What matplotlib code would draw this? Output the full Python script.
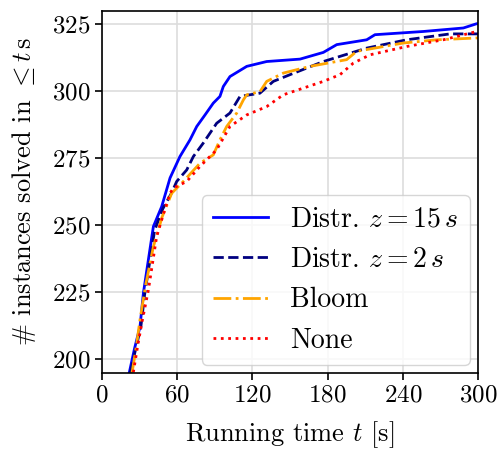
import numpy as np
import matplotlib
matplotlib.use("Agg")
import matplotlib.pyplot as plt

plt.rcParams['font.family'] = ['cmr10', 'DejaVu Serif']
plt.rcParams['mathtext.fontset'] = 'cm'
plt.rcParams['axes.formatter.use_mathtext'] = True
plt.rcParams['font.size'] = 18

# time [s] vs. number of instances solved within that time
t_distr15 = [21.8, 26.0, 30.3, 33.0, 37.0, 41.0, 47.6, 54.3, 62.2, 70.2, 75.6, 82.2,
             88.8, 94.1, 96.8, 102.1, 115.5, 131.4, 158.0, 176.6, 187.3, 211.2,
             217.8, 256.4, 288.3, 299.0, 300.0]
n_distr15 = [195, 204, 212, 224.5, 237, 249.4, 256.8, 267.5, 275.5, 281.7, 286.7, 291,
             295.4, 297.9, 301.6, 305.3, 309.1, 310.9, 311.8, 314.3, 317.2, 319,
             320.9, 322.1, 323.4, 325, 325]

t_distr2 = [22.6, 27.0, 31.0, 34.0, 38.0, 42.0, 48.5, 55.6, 59.6, 67.6, 72.9, 80.8,
            91.5, 102.1, 110.1, 126.0, 136.7, 150.0, 176.6, 211.2, 243.1, 277.7,
            300.0]
n_distr2 = [195, 204, 212, 224, 236, 248, 256, 262, 266.2, 270.5, 275.5, 280.5,
            287.9, 291.7, 297.9, 299.1, 303.5, 306, 310.9, 315.9, 319, 321.2,
            321.2]

t_bloom = [24.0, 27.5, 30.3, 35.0, 41.0, 48.0, 55.6, 64.9, 78.2, 88.8, 94.1, 99.5,
           107.5, 112.8, 115.5, 126.1, 131.4, 144.7, 166.0, 195.2, 203.2, 240.4,
           267.1, 300.0]
n_bloom = [195, 205, 214.6, 228, 241.9, 253, 261.8, 266.2, 273, 276.1, 281.7, 286.7,
           291.7, 296.6, 298.5, 299.7, 303.5, 306.6, 309.1, 311.6, 314.7, 317.8,
           319, 319.7]

t_none = [25.0, 28.5, 32.0, 37.0, 43.6, 49.0, 54.3, 56.9, 67.6, 78.2, 91.5, 102.1,
          115.5, 131.4, 144.7, 176.6, 189.9, 200.5, 213.8, 243.1, 272.3, 299.0, 300.0]
n_none = [195, 205, 214, 225.7, 245.6, 254, 261.8, 263.7, 266.2, 271.8, 278, 286.7,
          291, 294.1, 298.5, 303.5, 306, 310.3, 313.4, 316.5, 319, 322.1, 322.1]

fig = plt.figure(figsize=(5.0, 4.51), dpi=100)
ax = fig.add_axes([0.204, 0.173, 0.752, 0.803])

ax.plot(t_distr15, n_distr15, color='blue', lw=2, ls='-', label=r'Distr. $z = 15\,s$')
ax.plot(t_distr2, n_distr2, color='navy', lw=2, ls='--', label=r'Distr. $z = 2\,s$')
ax.plot(t_bloom, n_bloom, color='orange', lw=2, ls='-.', label='Bloom')
ax.plot(t_none, n_none, color='red', lw=2, ls=':', label='None')

ax.set_xlim(0, 300)
ax.set_ylim(194.8, 329.8)
ax.set_xticks([0, 60, 120, 180, 240, 300])
ax.set_yticks([200, 225, 250, 275, 300, 325])
ax.grid(True, color='#dddddd', lw=1.2)
ax.set_axisbelow(True)
for s in ax.spines.values():
    s.set_linewidth(1.2)
ax.tick_params(width=1.2, length=5, labelsize=18)

ax.set_xlabel(r'Running time $t$ [s]', fontsize=19, labelpad=9)
ax.set_ylabel(r'# instances solved in $\leq t\,$s', fontsize=19, labelpad=10)
ax.legend(loc='lower right', handlelength=2.0, fontsize=20,
          borderaxespad=0.3, labelspacing=0.5)

fig.savefig('out.png', dpi=100)
